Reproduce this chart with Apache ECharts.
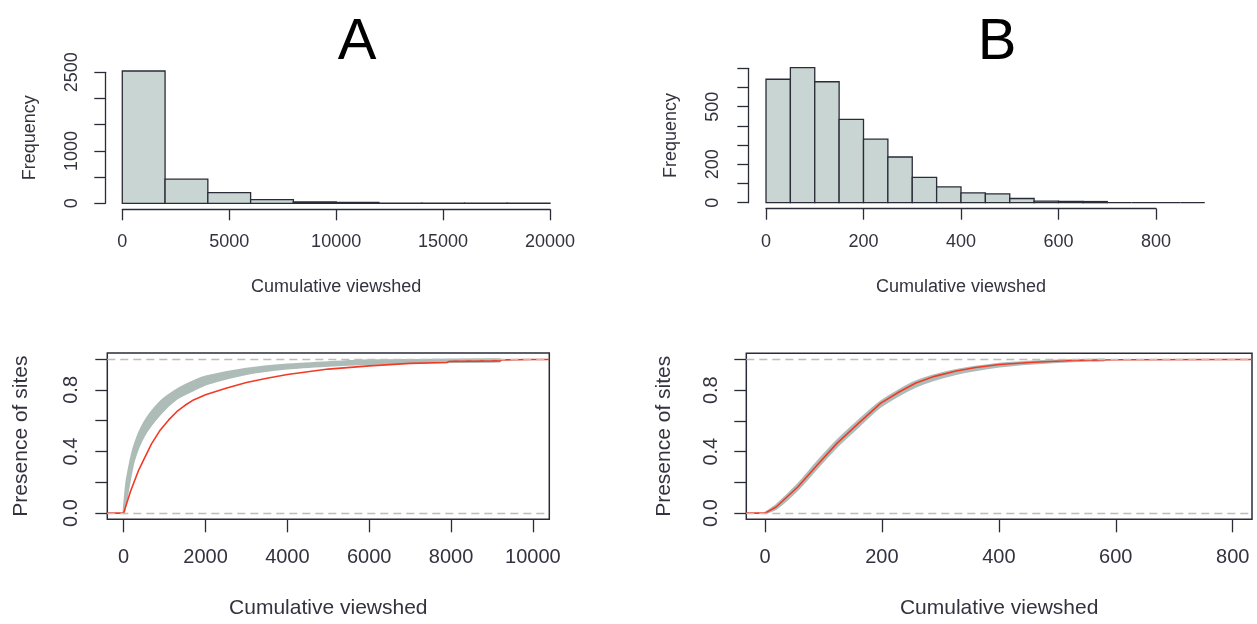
<!DOCTYPE html>
<html>
<head>
<meta charset="utf-8">
<title>Cumulative viewshed</title>
<script src="https://cdn.jsdelivr.net/npm/echarts@6.0.0/dist/echarts.min.js"></script>
<style>
  html, body { margin: 0; padding: 0; background: #fff; }
  #chart { width: 1257px; height: 624px; }
</style>
</head>
<body>
<div id="chart"></div>
<script>
// ---- histogram A (bins of 2000)
const histABreaks = [0, 2000, 4000, 6000, 8000, 10000, 12000, 14000, 16000, 18000, 20000];
const histACounts = [2525, 460, 205, 70, 25, 15, 3, 2, 1, 1];
const histAXTicks = [0, 5000, 10000, 15000, 20000];
const histAYTicks = [0, 500, 1000, 1500, 2000, 2500];
const histAYLabels = [0, 1000, 2500];

// ---- histogram B (bins of 50)
const histBBreaks = [0, 50, 100, 150, 200, 250, 300, 350, 400, 450, 500, 550, 600, 650, 700, 750, 800, 850, 900];
const histBCounts = [643, 703, 630, 434, 331, 238, 132, 82, 51, 46, 22, 8, 7, 6, 0, 0, 0, 0];
const histBXTicks = [0, 200, 400, 600, 800];
const histBYTicks = [0, 100, 200, 300, 400, 500, 600, 700];
const histBYLabels = [0, 200, 500];

// ---- ECDF A : observed (red) and simulated envelope (grey)
const ecdfARed = [[-400, 0], [0, 0], [40, 0.035], [83, 0.07], [160, 0.135], [245, 0.195], [360, 0.275], [488, 0.346],
  [680, 0.45], [895, 0.54], [1100, 0.605], [1302, 0.66], [1500, 0.70], [1707, 0.735], [2000, 0.768], [2500, 0.81],
  [3000, 0.848], [3500, 0.876], [4000, 0.90], [5000, 0.935], [6000, 0.956], [7000, 0.972], [7900, 0.978],
  [7950, 0.985], [9200, 0.988], [9250, 0.995], [10000, 0.997], [10400, 0.997]];
const ecdfAUpper = [[0, 0], [40, 0.12], [83, 0.22], [245, 0.42], [488, 0.58], [895, 0.72], [1302, 0.80],
  [1707, 0.855], [2034, 0.887], [3000, 0.935], [4000, 0.963], [5000, 0.978], [6000, 0.99], [7000, 0.993], [9190, 0.997]];
const ecdfALower = [[0, 0], [83, 0.12], [245, 0.34], [488, 0.50], [895, 0.645], [1302, 0.745], [1707, 0.80],
  [2034, 0.84], [3000, 0.905], [4000, 0.94], [5000, 0.958], [6000, 0.97], [7000, 0.978], [8000, 0.982], [9190, 0.985]];
const ecdfAXTicks = [0, 2000, 4000, 6000, 8000, 10000];

// ---- ECDF B
const ecdfBRed = [[-32, 0], [0, 0], [19, 0.04], [56, 0.17], [89, 0.312], [123, 0.454], [157, 0.574],
  [198, 0.716], [230, 0.79], [258, 0.847], [290, 0.89], [325, 0.923], [360, 0.948], [401, 0.967], [459, 0.982],
  [527, 0.993], [600, 0.998], [801, 1], [833, 1]];
const ecdfBUpper = [[0, 0], [19, 0.05], [56, 0.185], [89, 0.33], [123, 0.47], [157, 0.59], [198, 0.725],
  [258, 0.855], [325, 0.928], [401, 0.97], [459, 0.985], [527, 0.995], [580, 0.998]];
const ecdfBLower = [[0, 0], [19, 0.03], [56, 0.155], [89, 0.295], [123, 0.435], [157, 0.555], [198, 0.695],
  [258, 0.825], [325, 0.905], [401, 0.955], [459, 0.975], [527, 0.99], [580, 0.995]];
const ecdfBXTicks = [0, 200, 400, 600, 800];

const ecdfYTicks = [0, 0.2, 0.4, 0.6, 0.8, 1.0];
const ecdfYLabels = [0, 0.4, 0.8];

const FONT = "'Liberation Sans', Arial, sans-serif";
const INK = '#2a2c38';
const TXT = '#333340';
const BAR_FILL = '#c9d5d2';
const BAND = '#adbcb7';
const RED = '#f03a26';

// histogram as rects drawn through the axis scales
function histSeries(breaks, counts, gi) {
  return {
    type: 'custom',
    xAxisIndex: gi, yAxisIndex: gi,
    clip: false,
    encode: { x: [0, 1], y: 2 },
    data: counts.map((c, i) => [breaks[i], breaks[i + 1], c]),
    renderItem: (params, api) => {
      const p0 = api.coord([api.value(0), api.value(2)]);
      const p1 = api.coord([api.value(1), 0]);
      return {
        type: 'rect',
        shape: { x: p0[0], y: p0[1], width: p1[0] - p0[0], height: p1[1] - p0[1] },
        style: { fill: BAR_FILL, stroke: INK, lineWidth: 1.3 }
      };
    }
  };
}

// grey envelope of the simulated curves
function bandSeries(upper, lower, gi) {
  return {
    type: 'custom',
    xAxisIndex: gi, yAxisIndex: gi,
    data: [[0, 0]],
    renderItem: (params, api) => {
      const pts = upper.map(p => api.coord(p)).concat(lower.slice().reverse().map(p => api.coord(p)));
      return {
        type: 'polygon',
        shape: { points: pts, smooth: 0.25 },
        style: { fill: BAND, stroke: BAND, lineWidth: 2.5, lineJoin: 'round' }
      };
    }
  };
}

function redSeries(data, gi) {
  return {
    type: 'line', xAxisIndex: gi, yAxisIndex: gi,
    data: data, symbol: 'none', silent: true,
    lineStyle: { color: RED, width: 1.6, join: 'round' }
  };
}

function dashSeries(gi) {
  return {
    type: 'line', xAxisIndex: gi, yAxisIndex: gi, data: [], z: 5,
    markLine: {
      silent: true, symbol: 'none', label: { show: false },
      lineStyle: { color: '#bdbdbd', type: [8, 5], width: 1.4 },
      data: [{ yAxis: 0 }, { yAxis: 1 }]
    }
  };
}

const plain = v => String(v);
const oneDec = v => v.toFixed(1);
const textStyle = (size, margin, fmt) => ({ color: TXT, fontFamily: FONT, fontSize: size, margin: margin, formatter: fmt });

function axisCfg(kind, gi, min, max, o) {
  const isX = kind === 'x';
  return {
    type: 'value', gridIndex: gi, min: min, max: max,
    position: isX ? 'bottom' : 'left',
    offset: o.offset || 0,
    axisLine: { show: o.line !== false, onZero: false, lineStyle: { color: INK, width: 1.3 } },
    axisTick: { show: true, length: o.tickLen, customValues: o.ticks, lineStyle: { color: INK, width: 1.3 } },
    axisLabel: Object.assign({ customValues: o.labels || o.ticks, rotate: isX ? 0 : 90 },
      textStyle(o.size, o.margin, o.fmt || plain)),
    splitLine: { show: false },
    name: o.name, nameLocation: 'middle', nameGap: o.nameGap,
    nameTextStyle: { color: TXT, fontFamily: FONT, fontSize: o.nameSize }
  };
}

const chart = echarts.init(document.getElementById('chart'), null, { renderer: 'canvas' });

chart.setOption({
  backgroundColor: '#ffffff',
  animation: false,
  title: [
    { text: 'A', left: 352, top: 9, textAlign: 'center',
      textStyle: { fontFamily: FONT, fontSize: 58, fontWeight: 'normal', color: '#000' } },
    { text: 'B', left: 992, top: 9, textAlign: 'center',
      textStyle: { fontFamily: FONT, fontSize: 58, fontWeight: 'normal', color: '#000' } }
  ],
  grid: [
    // 0 histogram A
    { left: 122.3, top: 72.3, width: 427.7, height: 131 },
    // 1 histogram B (data, 0..900)
    { left: 766, top: 68.3, width: 438.75, height: 134.4 },
    // 2 histogram B (axis, 0..800)
    { left: 766, top: 68.3, width: 390, height: 134.4 },
    // 3 ECDF A
    { left: 107.3, top: 352.9, width: 442, height: 166.4,
      show: true, borderColor: INK, borderWidth: 1.5, backgroundColor: 'transparent' },
    // 4 ECDF B
    { left: 746.3, top: 353.3, width: 505.7, height: 166,
      show: true, borderColor: INK, borderWidth: 1.5, backgroundColor: 'transparent' }
  ],
  xAxis: [
    axisCfg('x', 0, 0, 20000, { offset: 6, ticks: histAXTicks, tickLen: 11, size: 18, margin: 24,
      name: 'Cumulative viewshed', nameGap: 69, nameSize: 18 }),
    { type: 'value', gridIndex: 1, min: 0, max: 900, show: false },
    axisCfg('x', 2, 0, 800, { offset: 6, ticks: histBXTicks, tickLen: 11, size: 18, margin: 24,
      name: 'Cumulative viewshed', nameGap: 69, nameSize: 18 }),
    axisCfg('x', 3, -400, 10400, { line: false, ticks: ecdfAXTicks, tickLen: 13, size: 20, margin: 28,
      name: 'Cumulative viewshed', nameGap: 78, nameSize: 21 }),
    axisCfg('x', 4, -32, 833, { line: false, ticks: ecdfBXTicks, tickLen: 13, size: 20, margin: 28,
      name: 'Cumulative viewshed', nameGap: 78, nameSize: 21 })
  ],
  yAxis: [
    axisCfg('y', 0, 0, 2500, { offset: 17, ticks: histAYTicks, labels: histAYLabels, tickLen: 11, size: 18, margin: 24,
      name: 'Frequency', nameGap: 66, nameSize: 18 }),
    axisCfg('y', 1, 0, 700, { offset: 17.7, ticks: histBYTicks, labels: histBYLabels, tickLen: 11, size: 18, margin: 26,
      name: 'Frequency', nameGap: 68, nameSize: 18 }),
    { type: 'value', gridIndex: 2, min: 0, max: 700, show: false },
    axisCfg('y', 3, -0.04, 1.04, { line: false, ticks: ecdfYTicks, labels: ecdfYLabels, tickLen: 12, size: 20, margin: 26,
      fmt: oneDec, name: 'Presence of sites', nameGap: 76, nameSize: 21 }),
    axisCfg('y', 4, -0.04, 1.04, { line: false, ticks: ecdfYTicks, labels: ecdfYLabels, tickLen: 12, size: 20, margin: 25,
      fmt: oneDec, name: 'Presence of sites', nameGap: 72, nameSize: 21 })
  ],
  series: [
    histSeries(histABreaks, histACounts, 0),
    histSeries(histBBreaks, histBCounts, 1),
    bandSeries(ecdfAUpper, ecdfALower, 3),
    redSeries(ecdfARed, 3),
    dashSeries(3),
    bandSeries(ecdfBUpper, ecdfBLower, 4),
    redSeries(ecdfBRed, 4),
    dashSeries(4)
  ]
});
</script>
</body>
</html>
